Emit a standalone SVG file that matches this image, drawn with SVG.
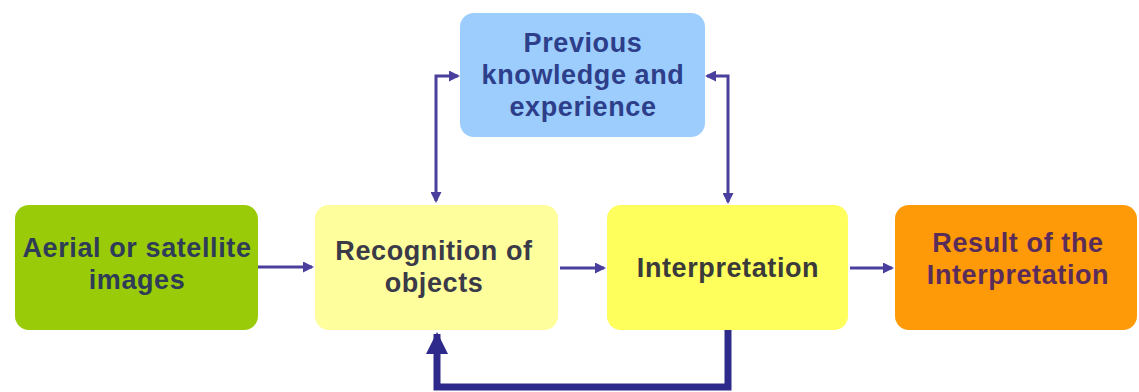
<svg xmlns="http://www.w3.org/2000/svg" width="1139" height="392" viewBox="0 0 1139 392">
<defs>
<style>
.t{font-family:"Liberation Sans",Arial,sans-serif;font-weight:bold;font-size:27px;text-anchor:middle;letter-spacing:0.6px}
.c{fill:none;stroke:#4a3f9c;stroke-width:3}
</style>
<marker id="ah" markerWidth="11" markerHeight="11" refX="9" refY="5.5" orient="auto-start-reverse" markerUnits="userSpaceOnUse">
<path d="M0,0 L11,5.5 L0,11 Z" fill="#4a3f9c"/>
</marker>
<marker id="big" markerWidth="22" markerHeight="24" refX="20" refY="11" orient="auto" markerUnits="userSpaceOnUse">
<path d="M0,0 L22,11 L0,22 Z" fill="#2e2a8c"/>
</marker>
</defs>
<rect width="1139" height="392" fill="#ffffff"/>
<g id="connectors">
<line class="c" x1="258" y1="267" x2="312" y2="267" marker-end="url(#ah)"/>
<line class="c" x1="560" y1="268" x2="604" y2="268" marker-end="url(#ah)"/>
<line class="c" x1="850" y1="268" x2="892" y2="268" marker-end="url(#ah)"/>
<polyline class="c" points="436,201 436,76 458,76" marker-start="url(#ah)" marker-end="url(#ah)"/>
<polyline class="c" points="728,202 728,76 707,76" marker-start="url(#ah)" marker-end="url(#ah)"/>
<polyline fill="none" stroke="#2e2a8c" stroke-width="7" points="728,330 728,387 437,387 437,334" marker-end="url(#big)"/>
</g>
<g id="n-aerial">
<rect x="15" y="205" width="243" height="125" rx="14" fill="#9acb08"/>
<text class="t" fill="#2f3c58" x="137" y="257">Aerial or satellite</text>
<text class="t" fill="#2f3c58" x="137" y="289">images</text>
</g>
<g id="n-recognition">
<rect x="315" y="205" width="243" height="125" rx="14" fill="#fefe9c"/>
<text class="t" fill="#3a3a48" x="434" y="260">Recognition of</text>
<text class="t" fill="#3a3a48" x="434" y="292">objects</text>
</g>
<g id="n-interpretation">
<rect x="607" y="205" width="241" height="125" rx="14" fill="#fefe5c"/>
<text class="t" fill="#3a3a3a" x="728" y="277">Interpretation</text>
</g>
<g id="n-result">
<rect x="895" y="205" width="242" height="125" rx="14" fill="#fe9a08"/>
<text class="t" fill="#5a2c5a" x="1018" y="252">Result of the</text>
<text class="t" fill="#5a2c5a" x="1018" y="284">Interpretation</text>
</g>
<g id="n-previous">
<rect x="460" y="13" width="245" height="124" rx="14" fill="#9ccdfc"/>
<text class="t" fill="#2d3e8a" x="583" y="52">Previous</text>
<text class="t" fill="#2d3e8a" x="583" y="84">knowledge and</text>
<text class="t" fill="#2d3e8a" x="583" y="116">experience</text>
</g>
</svg>
